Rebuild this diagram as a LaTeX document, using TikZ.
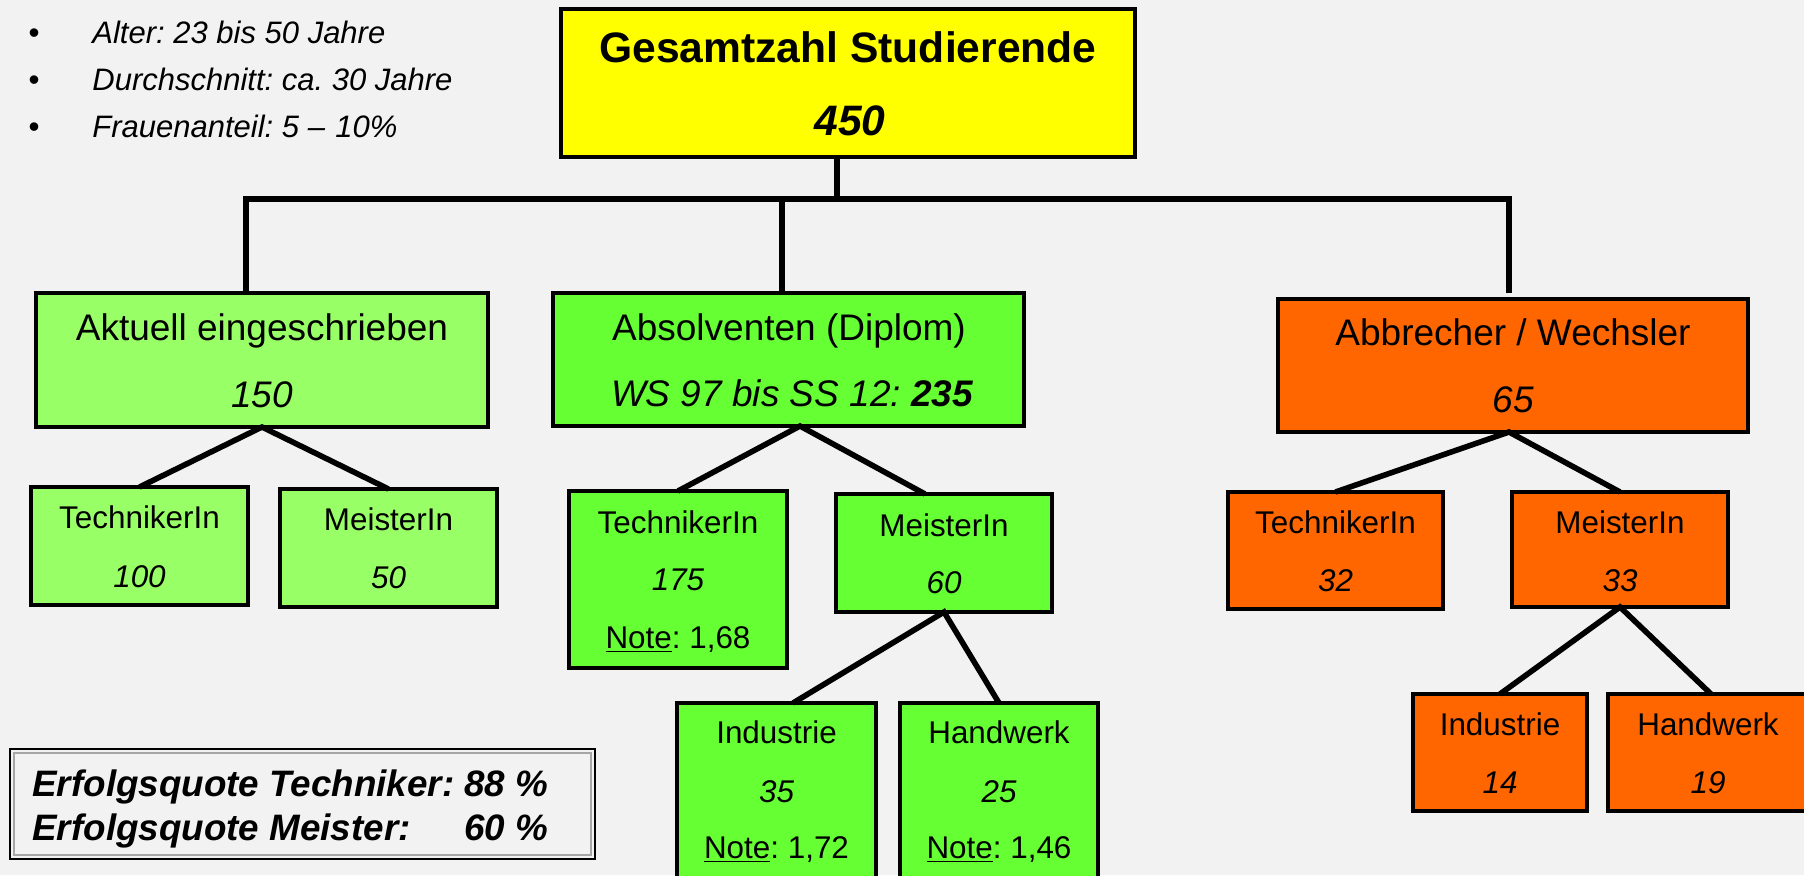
\documentclass[tikz,border=0pt]{standalone}
\usepackage{fontspec}
\setmainfont{Liberation Sans}
\usetikzlibrary{calc}
\definecolor{bg}{HTML}{F2F2F2}
\definecolor{yel}{HTML}{FFFF00}
\definecolor{lgreen}{HTML}{99FF66}
\definecolor{bgreen}{HTML}{66FF33}
\definecolor{orng}{HTML}{FF6600}
\newcommand\mkbox[6]{%
  \pgfmathsetmacro\bxw{(#4-#2)*0.5}%
  \pgfmathsetmacro\bxh{(#5-#3)*0.5}%
  \node[#6, minimum width=\bxw pt, minimum height=\bxh pt] (#1) at ({(#2+#4)/2},{(#3+#5)/2}) {};%
}
\frenchspacing
\begin{document}
\frenchspacing
\begin{tikzpicture}[x=0.5pt,y=-0.5pt,
  boxbase/.style={draw=black, line width=2.1pt, inner sep=0pt, outer sep=0pt},
  ybox/.style={boxbase, fill=yel},
  lgbox/.style={boxbase, fill=lgreen},
  bgbox/.style={boxbase, fill=bgreen},
  obox/.style={boxbase, fill=orng},
  conn/.style={draw=black, line width=2.8pt},
  ttl/.style={anchor=base, inner sep=0pt, font=\fontsize{21.3}{25}\selectfont\bfseries},
  mtxt/.style={anchor=base, inner sep=0pt, font=\fontsize{18.5}{22}\selectfont},
  stxt/.style={anchor=base, inner sep=0pt, font=\fontsize{15.7}{19}\selectfont},
  btxt/.style={anchor=base west, inner sep=0pt, font=\fontsize{15.5}{19}\selectfont\itshape},
  etxt/.style={inner sep=0pt, font=\fontsize{18.4}{22}\selectfont\bfseries\itshape},
]
\clip (0,0) rectangle (1804,875);
\fill[bg] (0,0) rectangle (1804,875);

% bullets
\node[stxt] (b1) at (34,43) {•};
\node[btxt] (l1) at (92,43) {Alter: 23 bis 50 Jahre};
\node[stxt] (b2) at (34,90) {•};
\node[btxt] (l2) at (92,90) {Durchschnitt: ca. 30 Jahre};
\node[stxt] (b3) at (34,137) {•};
\node[btxt] (l3) at (92,137) {Frauenanteil: 5 –\,\,10\%};

% boxes
\mkbox{top}{561}{9}{1135}{157}{ybox}
\mkbox{akt}{36}{293}{488}{427}{lgbox}
\mkbox{techA}{31}{487}{248}{605}{lgbox}
\mkbox{meiA}{280}{489}{497}{607}{lgbox}
\mkbox{abs}{553}{293}{1024}{426}{bgbox}
\mkbox{techB}{569}{491}{787}{668}{bgbox}
\mkbox{meiB}{836}{494}{1052}{612}{bgbox}
\mkbox{indB}{677}{703}{876}{900}{bgbox}
\mkbox{hanB}{900}{703}{1098}{900}{bgbox}
\mkbox{abb}{1278}{299}{1748}{432}{obox}
\mkbox{techC}{1228}{492}{1443}{609}{obox}
\mkbox{meiC}{1512}{492}{1728}{607}{obox}
\mkbox{indC}{1413}{694}{1587}{811}{obox}
\mkbox{hanC}{1608}{694}{1808}{811}{obox}

% connectors
\coordinate (barL) at (246,199);
\coordinate (barM) at (782,199);
\coordinate (barR) at (1509,199);
\coordinate (barT) at (837,199);
\draw[conn] ($(barL)+(-2.8,0)$) -- ($(barR)+(2.8,0)$);
\draw[conn] (barT |- top.south) -- (barT);
\draw[conn] (barL) -- (barL |- akt.north);
\draw[conn] (barM) -- (barM |- abs.north);
\draw[conn] (barR) -- ($(barR |- abb.north)+(0,-6)$);
\draw[conn] (techA.north) -- (akt.south) -- (meiA.north);
\draw[conn] (techB.north) -- ($(abs.south)+(11.5,0)$) -- ($(meiB.north)+(-19,0)$);
\draw[conn] ($(indB.north)+(16.5,0)$) -- (meiB.south) -- (hanB.north);
\draw[conn] (techC.north) -- ($(abb.south)+(-4,0)$) -- (meiC.north);
\draw[conn] (indC.north) -- (meiC.south) -- ($(hanC.north)+(3,0)$);

% texts
\node[ttl] (topT) at (848,62) {Gesamtzahl Studierende};
\node[ttl] (topN) at (850,135) {\itshape 450};

\node[mtxt] (aktT) at (262,340) {Aktuell eingeschrieben};
\node[mtxt] (aktN) at (262,407) {\itshape 150};
\node[stxt] (techAT) at (139.5,528) {TechnikerIn};
\node[stxt] (techAN) at (139.5,587) {\itshape 100};
\node[stxt] (meiAT) at (388.5,530) {MeisterIn};
\node[stxt] (meiAN) at (388.5,588) {\itshape 50};

\node[mtxt] (absT) at (789,340) {Absolventen (Diplom)};
\node[mtxt] (absN) at (792,406) {\itshape WS 97 bis SS 12: \bfseries 235};
\node[stxt] (techBT) at (678,533) {TechnikerIn};
\node[stxt] (techBN) at (678,590) {\itshape 175};
\node[stxt] (techBG) at (678,648) {\underline{Note}: 1,68};
\node[stxt] (meiBT) at (944,536) {MeisterIn};
\node[stxt] (meiBN) at (944,593) {\itshape 60};
\node[stxt] (indBT) at (776.5,743) {Industrie};
\node[stxt] (indBN) at (776.5,802) {\itshape 35};
\node[stxt] (indBG) at (776.5,858) {\underline{Note}: 1,72};
\node[stxt] (hanBT) at (999,743) {Handwerk};
\node[stxt] (hanBN) at (999,802) {\itshape 25};
\node[stxt] (hanBG) at (999,858) {\underline{Note}: 1,46};

\node[mtxt] (abbT) at (1513,345) {Abbrecher / Wechsler};
\node[mtxt] (abbN) at (1513,412) {\itshape 65};
\node[stxt] (techCT) at (1335.5,533) {TechnikerIn};
\node[stxt] (techCN) at (1335.5,591) {\itshape 32};
\node[stxt] (meiCT) at (1620,533) {MeisterIn};
\node[stxt] (meiCN) at (1620,591) {\itshape 33};
\node[stxt] (indCT) at (1500,735) {Industrie};
\node[stxt] (indCN) at (1500,793) {\itshape 14};
\node[stxt] (hanCT) at (1708,735) {Handwerk};
\node[stxt] (hanCN) at (1708,793) {\itshape 19};

% Erfolgsquote box
\mkbox{erf}{10}{749}{595}{859}{draw=black, line width=1.4pt, fill=bg, inner sep=0pt}
\mkbox{erfIn}{14}{753}{591}{855}{draw=gray!70, line width=0.9pt, inner sep=0pt}
\node[etxt, anchor=base west] (e1) at (32,796) {Erfolgsquote Techniker: 88 \%};
\node[etxt, anchor=base west] (e2) at (32,840) {Erfolgsquote Meister:};
\node[etxt, anchor=base east] (e3) at ($(e1.base east)+(0,44)$) {60 \%};
\end{tikzpicture}
\end{document}
